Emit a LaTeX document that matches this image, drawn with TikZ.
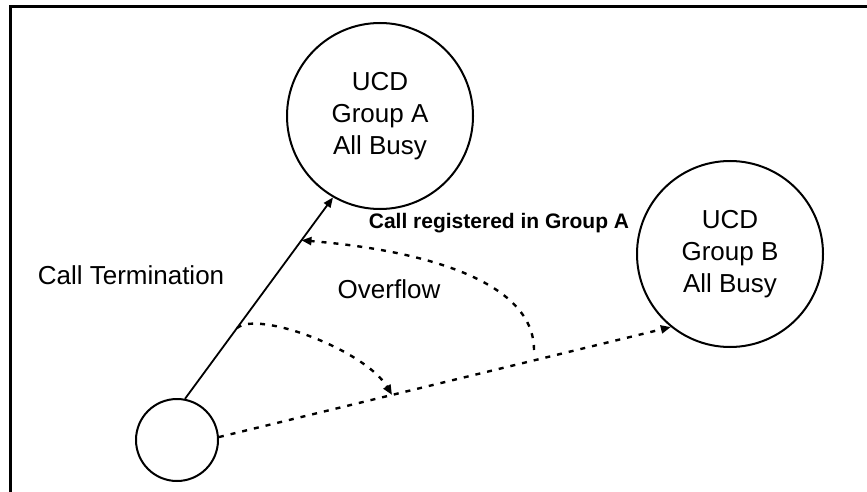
\documentclass[tikz,border=0pt]{standalone}
\usepackage{fontspec}
\setmainfont{Liberation Sans}
\usetikzlibrary{arrows.meta,calc}
\tikzset{
  bigstate/.style={draw,circle,line width=2pt,minimum size=186pt,inner sep=0pt,align=center,font=\fontsize{26}{32}\selectfont},
  smallstate/.style={draw,circle,line width=2pt,minimum size=82pt,inner sep=0pt},
  solidarrow/.style={line width=1.8pt,-{Triangle[length=10pt,width=8pt]}},
  dotarrow/.style={line width=2.4pt,dash pattern=on 5pt off 7pt,-{Triangle[length=10pt,width=8pt]}},
  lbl/.style={inner sep=0pt,font=\fontsize{26}{32}\selectfont},
  boldlbl/.style={inner sep=0pt,font=\fontsize{21}{26}\selectfont\bfseries},
  frameline/.style={line width=3pt}
}
\begin{document}
\begin{tikzpicture}[x=1pt,y=-1pt]
\useasboundingbox (0,0) rectangle (867,492);
\coordinate (fb) at (10,492);
\coordinate (fc) at (10,7);
\coordinate (fr) at (867,7);
\draw[frameline] (fb) -- (fc) -- (fr);

\node[bigstate] (A) at (380,116) {UCD\\Group A\\All Busy};
\node[bigstate] (B) at (730,254) {UCD\\Group B\\All Busy};
\node[smallstate] (S) at (177,440) {};

\draw[solidarrow] (S.79) -- (A.240);
\draw[dotarrow] (S.4) -- (B.231.5);

\coordinate (r1) at ($(S.79)!0.787!(A.240)$);
\coordinate (rs) at (534,350);
\draw[dotarrow] (rs) .. controls (534,280) and (420,250) .. (r1);

\coordinate (o1) at ($(S.79)!0.351!(A.240)$);
\coordinate (o2) at ($(S.4)!0.383!(B.231.5)$);
\draw[dotarrow] (o1) .. controls (258,310) and (365,350) .. (o2);

\node[lbl] (ct) at (131,275) {Call Termination};
\node[lbl] (ov) at (389,289) {Overflow};
\node[boldlbl] (cr) at (499,223) {Call registered in Group A};
\end{tikzpicture}
\end{document}
